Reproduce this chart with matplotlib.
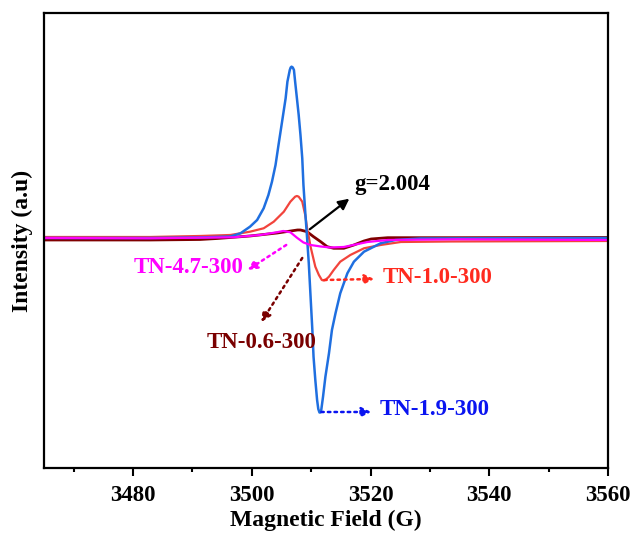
import matplotlib.pyplot as plt
from matplotlib.ticker import MultipleLocator

plt.rcParams['font.family'] = ['Liberation Serif', 'DejaVu Serif']
plt.rcParams['font.weight'] = 'bold'

# EPR spectra, field in G, intensity in arbitrary units
field_19 = [3465.0, 3482.9, 3491.3, 3493.8, 3496.4, 3498.1, 3499.7, 3500.9, 3502.0,
            3502.8, 3503.4, 3504.0, 3504.5, 3505.1, 3505.7, 3506.0, 3506.4, 3506.55,
            3506.7, 3506.9, 3507.1, 3507.3, 3507.6, 3507.9, 3508.2, 3508.5, 3508.7,
            3509.0, 3509.3, 3509.6, 3509.9, 3510.2, 3510.4, 3510.7, 3511.0, 3511.2,
            3511.4, 3511.55, 3511.7, 3512.0, 3512.4, 3513.0, 3513.5, 3514.1, 3514.9,
            3516.1, 3517.2, 3518.9, 3521.7, 3524.2, 3528.4, 3560.0]
tn_19 = [0, 0, 0.5, 1, 1.5, 4.7, 11.3, 18, 29.7,
         43, 56.3, 73, 93, 116.3, 139.7, 156.3, 168, 170.5,
         171.3, 170.5, 168, 156.3, 139.7, 123, 103, 79.7, 53,
         26.3, 1.3, -25.3, -58.7, -92, -118.7, -142, -162, -171,
         -174.5, -174.5, -172, -158.7, -138.7, -115.3, -92, -75.3, -55.3,
         -35.3, -23.7, -13.7, -5.3, -2, -0.5, 0]

field_10 = [3465.0, 3482.9, 3491.3, 3496.4, 3499.7, 3502.0, 3503.7, 3505.4, 3506.5,
            3507.3, 3507.6, 3507.9, 3508.5, 3509.0, 3509.4, 3509.6, 3509.9, 3510.3,
            3510.7, 3511.3, 3511.8, 3512.1, 3512.4, 3513.0, 3513.8, 3514.9, 3516.6,
            3518.9, 3521.7, 3525.1, 3533.5, 3560.0]
tn_10 = [1, 1, 2, 3, 6.3, 9.7, 16.3, 26.3, 36.3,
         41.3, 42, 41.3, 36.3, 23, 6.3, 1.3, -8.7, -18.7,
         -28.7, -37, -42, -42.5, -42, -38.7, -32, -23.7, -17,
         -10.3, -7, -4, -3.5, -3]

field_06 = [3465.0, 3482.9, 3491.3, 3494.2, 3499.7, 3504.3, 3507.7, 3508.2, 3509.3,
            3510.4, 3511.6, 3512.7, 3513.8, 3515.5, 3517.2, 3518.9, 3520.1, 3522.9,
            3534.7, 3560.0]
tn_06 = [-2, -2, -1.5, -0.5, 2, 5, 8, 8, 6.3,
         1.3, -3.7, -8.7, -10.3, -10.3, -7, -3, -1, 0.3,
         0.3, 0.5]

field_47 = [3465.0, 3482.9, 3496.9, 3501.4, 3504.2, 3505.3, 3506.5, 3507.6, 3508.7,
            3509.9, 3511.6, 3513.2, 3515.5, 3517.5, 3519.5, 3522.9, 3534.7, 3560.0]
tn_47 = [0, -0.3, 0.7, 3, 5.7, 7, 5.7, 0.3, -4.5,
         -7, -8.5, -9.5, -9, -6.5, -4, -2, -1.3, -2]

fig = plt.figure(figsize=(6.34, 5.34), dpi=100)
ax = fig.add_axes([0.0694, 0.1236, 0.8896, 0.8521])

ax.plot(field_06, tn_06, color='#800000', lw=2.0)
ax.plot(field_10, tn_10, color='#f2443c', lw=1.6)
ax.plot(field_19, tn_19, color='#1f6fe0', lw=1.8)
ax.plot(field_47, tn_47, color='#ff00ff', lw=1.6)

ax.set_xlim(3465, 3560)
ax.set_ylim(-230, 225)
ax.xaxis.set_major_locator(MultipleLocator(20))
ax.xaxis.set_minor_locator(MultipleLocator(10))
ax.tick_params(axis='x', which='major', direction='out', length=6, width=1.5,
               labelsize=16.5, pad=6)
ax.tick_params(axis='x', which='minor', direction='out', length=3, width=1.5)
ax.set_yticks([])
for s in ax.spines.values():
    s.set_linewidth(1.6)

ax.set_xlabel('Magnetic Field (G)', fontsize=17, fontweight='bold', labelpad=3)
ax.set_ylabel('Intensity (a.u)', fontsize=17, fontweight='bold', labelpad=8)

# g value
ax.annotate('', xy=(3516.8, 41), xytext=(3509.4, 7),
            arrowprops=dict(arrowstyle='-|>', color='black', lw=1.6, mutation_scale=16))
ax.text(3517.2, 53, 'g=2.004', fontsize=16.5, fontweight='bold', color='black',
        ha='left', va='center')

# sample labels with dotted pointers
labels = [
    ('TN-4.7-300', '#ff00ff', (3505.8, -7), (3499.3, -32), (3498.6, -30), 'right'),
    ('TN-1.0-300', '#ff2a1f', (3512.2, -42), (3520.6, -41), (3522.0, -40), 'left'),
    ('TN-0.6-300', '#7a0000', (3508.5, -20), (3501.6, -84), (3501.6, -105), 'center'),
    ('TN-1.9-300', '#0a14f0', (3511.7, -174), (3520.1, -174), (3521.5, -172), 'left'),
]
for txt, col, start, end, pos, ha in labels:
    ax.annotate('', xy=end, xytext=start,
                arrowprops=dict(arrowstyle='-|>', color=col, lw=1.8, ls=':',
                                mutation_scale=14, shrinkA=0, shrinkB=0))
    ax.text(pos[0], pos[1], txt, fontsize=16.5, fontweight='bold', color=col,
            ha=ha, va='center')

fig.savefig('out.png', dpi=100)
